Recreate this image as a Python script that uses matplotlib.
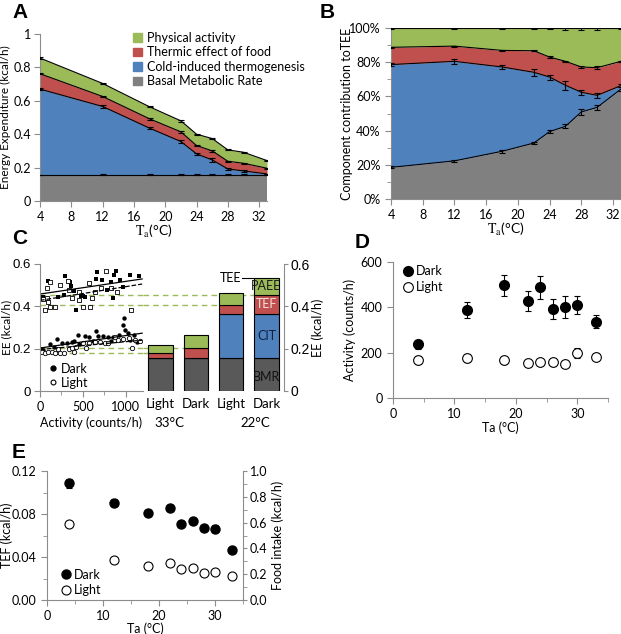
import matplotlib

matplotlib.use("Agg")
import matplotlib.pyplot as plt
import numpy as np
from matplotlib.lines import Line2D
from matplotlib.patches import Patch
from matplotlib.ticker import FuncFormatter, MultipleLocator, PercentFormatter
from matplotlib.transforms import blended_transform_factory

plt.rcParams["font.family"] = ["Lato", "DejaVu Sans"]
plt.rcParams["font.size"] = 9
plt.rcParams["mathtext.fontset"] = "stix"

GREEN = "#9bbb59"
RED = "#c0504d"
BLUE = "#4f81bd"
GRAY = "#808080"
DARK_GRAY = "#595959"
SPINE = "#8c8c8c"

# ---- panel A: stacked energy expenditure (kcal/h) ----
ta = [4, 12, 18, 22, 24, 26, 28, 30, 33]
bmr_top = [0.158, 0.158, 0.158, 0.158, 0.158, 0.158, 0.158, 0.158, 0.158]
cit_top = [0.670, 0.566, 0.436, 0.356, 0.282, 0.246, 0.192, 0.180, 0.162]
tef_top = [0.762, 0.626, 0.492, 0.414, 0.332, 0.300, 0.238, 0.226, 0.196]
pa_top = [0.856, 0.704, 0.564, 0.480, 0.400, 0.374, 0.306, 0.292, 0.242]
bmr_err = [0.0, 0.003, 0.003, 0.003, 0.003, 0.003, 0.003, 0.003, 0.0]
cit_err = [0.006, 0.008, 0.007, 0.010, 0.008, 0.010, 0.005, 0.004, 0.002]
tef_err = [0.004, 0.004, 0.004, 0.004, 0.004, 0.005, 0.004, 0.004, 0.003]
pa_err = [0.005, 0.003, 0.003, 0.004, 0.004, 0.004, 0.003, 0.003, 0.003]
legend_a = ["Physical activity", "Thermic effect of food",
            "Cold-induced thermogenesis", "Basal Metabolic Rate"]

# ---- panel B: cumulative share of TEE (%) ----
b_bmr = [18.5, 22.3, 27.9, 32.7, 39.4, 42.5, 50.9, 53.6, 64.3]
b_cit = [78.6, 80.5, 77.2, 74.1, 71.3, 66.5, 62.4, 60.6, 66.3]
b_tef = [88.7, 89.4, 86.9, 86.7, 83.0, 80.5, 77.2, 76.8, 80.5]
b_pa = [100, 100, 100, 100, 100, 100, 100, 100, 100]
b_bmr_err = [0.6, 0.7, 0.8, 0.8, 1.0, 1.2, 1.6, 1.3, 1.2]
b_cit_err = [0.8, 1.4, 1.3, 2.0, 1.5, 2.5, 1.4, 1.5, 0.8]
b_tef_err = [0.3, 0.3, 0.3, 0.3, 0.4, 0.4, 0.5, 0.8, 0.4]
b_pa_err = [0.4, 0.3, 0.6, 0.7, 0.7, 1.3, 0.9, 1.3, 0.3]

# ---- panel C: EE vs activity, 22 C (upper) and 33 C (lower) ----
dark22_x = [40, 99, 210, 274, 286, 349, 365, 397, 417, 476, 504, 528,
            647, 667, 726, 786, 833, 845, 861, 885, 933, 964, 1052, 1151]
dark22_y = [0.445, 0.521, 0.445, 0.453, 0.543, 0.516, 0.496, 0.472, 0.383, 0.449, 0.450, 0.445,
            0.529, 0.563, 0.524, 0.477, 0.516, 0.441, 0.548, 0.568, 0.524, 0.492, 0.548, 0.545]
light22_x = [40, 60, 80, 80, 99, 119, 119, 179, 238, 329, 337, 377,
             456, 456, 496, 575, 583, 607, 635, 714, 774, 833, 893, 1060]
light22_y = [0.434, 0.383, 0.485, 0.438, 0.422, 0.516, 0.398, 0.398, 0.501, 0.520, 0.477, 0.441,
             0.469, 0.430, 0.398, 0.509, 0.398, 0.441, 0.469, 0.485, 0.568, 0.485, 0.469, 0.383]
dark33_x = [12, 40, 119, 159, 198, 258, 317, 377, 397, 448, 456, 528, 575, 615,
            647, 675, 734, 794, 833, 853, 925, 964, 980, 992, 1020, 1044, 1099, 1131]
dark33_y = [0.197, 0.194, 0.221, 0.209, 0.244, 0.225, 0.228, 0.233, 0.238, 0.265, 0.221, 0.260, 0.257, 0.236,
            0.283, 0.260, 0.260, 0.257, 0.238, 0.257, 0.265, 0.312, 0.343, 0.288, 0.272, 0.241, 0.265, 0.233]
light33_x = [20, 60, 99, 139, 179, 210, 238, 278, 337, 377, 397, 417, 496,
             536, 575, 635, 694, 754, 794, 873, 913, 972, 1032, 1071, 1111, 1170]
light33_y = [0.186, 0.181, 0.186, 0.186, 0.181, 0.197, 0.178, 0.181, 0.197, 0.201, 0.186, 0.209, 0.225,
             0.201, 0.225, 0.233, 0.233, 0.225, 0.228, 0.257, 0.241, 0.244, 0.249, 0.201, 0.241, 0.238]
# fitted lines: (intercept, slope per count)
fit_dark22 = (0.458, 6.0e-5)
fit_light22 = (0.428, 6.5e-5)
fit_dark33 = (0.203, 5.9e-5)
fit_light33 = (0.196, 3.7e-5)

bar_labels = ["Light", "Dark", "Light", "Dark"]
bar_temps = ["33°C", "22°C"]
bar_bmr = [0.156, 0.156, 0.156, 0.156]
bar_cit = [0.0, 0.0, 0.206, 0.210]
bar_tef = [0.024, 0.046, 0.045, 0.088]
bar_paee = [0.036, 0.062, 0.057, 0.082]

# ---- panel D: activity (counts/h) ----
d_ta = [4, 12, 18, 22, 24, 26, 28, 30, 33]
d_dark = [237, 390, 497, 428, 488, 393, 403, 412, 337]
d_dark_err = [20, 35, 45, 45, 50, 45, 48, 40, 28]
d_light = [167, 178, 166, 155, 157, 158, 152, 200, 182]
d_light_err = [18, 18, 15, 10, 10, 15, 8, 22, 15]

# ---- panel E: TEF (kcal/h) ----
e_ta = [4, 12, 18, 22, 24, 26, 28, 30, 33]
e_dark = [0.1085, 0.0905, 0.0810, 0.0860, 0.0705, 0.0735, 0.0668, 0.0665, 0.0464]
e_dark_err = [0.004, 0.003, 0.003, 0.002, 0.002, 0.003, 0.002, 0.003, 0.001]
e_light = [0.0705, 0.0371, 0.0315, 0.0346, 0.0285, 0.0297, 0.0247, 0.0263, 0.0226]
e_light_err = [0.002, 0.002, 0.001, 0.002, 0.001, 0.001, 0.001, 0.002, 0.001]

W, H = 621, 634
fig = plt.figure(figsize=(W / 100, H / 100), dpi=100)


def px_axes(left, top, right, bottom):
    return fig.add_axes([left / W, 1 - bottom / H, (right - left) / W, (bottom - top) / H])


def excel_style(ax, side="left"):
    for name, spine in ax.spines.items():
        spine.set_color(SPINE)
        spine.set_visible(name in ("bottom", side))
    ax.tick_params(which="both", direction="out", color=SPINE, labelsize=9)
    ax.tick_params(which="major", length=4)
    ax.tick_params(which="minor", length=3)


def place_labels(ax, xlab_y=None, ylab_x=None):
    # put axis labels at fixed axes-fraction positions, centred
    if xlab_y is not None:
        ax.xaxis.set_label_coords(0.5, xlab_y)
        ax.xaxis.label.set_va("center")
    if ylab_x is not None:
        ax.yaxis.set_label_coords(ylab_x, 0.5)
        ax.yaxis.label.set_va("center")


def dl_handles(ms):
    return [Line2D([], [], ls="", marker="o", ms=ms, color="black"),
            Line2D([], [], ls="", marker="o", ms=ms, mfc="white", mec="black", mew=0.8)]


num_fmt = FuncFormatter(lambda v, _: f"{v:g}")
err_kw = dict(fmt="none", ecolor="black", elinewidth=0.8, capsize=2, capthick=0.8, zorder=5)

# ---------------- A ----------------
axA = px_axes(40, 34, 267, 201)
lower = np.zeros(len(ta))
for top, color in zip([bmr_top, cit_top, tef_top, pa_top], [GRAY, BLUE, RED, GREEN]):
    axA.fill_between(ta, lower, top, color=color, lw=0)
    axA.plot(ta, top, color="black", lw=0.8)
    lower = np.array(top)
for top, err in zip([bmr_top, cit_top, tef_top, pa_top], [bmr_err, cit_err, tef_err, pa_err]):
    axA.errorbar(ta, top, yerr=err, **err_kw)
axA.set_xlim(4, 33)
axA.set_ylim(0, 1)
axA.set_xticks(range(4, 33, 4))
axA.yaxis.set_major_locator(MultipleLocator(0.2))
axA.yaxis.set_major_formatter(num_fmt)
excel_style(axA)
axA.tick_params(axis="y", pad=2.5)
axA.set_ylabel("Energy Expenditure (kcal/h)", fontsize=8.5)
axA.set_xlabel(r"$\mathrm{T_a}$(°C)", fontsize=10)
place_labels(axA, xlab_y=-0.18, ylab_x=-0.15)
handles = [Patch(color=c) for c in [GREEN, RED, BLUE, GRAY]]
axA.legend(handles, legend_a, loc="upper left", bbox_to_anchor=(0.36, 1.08), frameon=False,
           handlelength=0.7, handleheight=0.7, handletextpad=0.4, labelspacing=0.2, fontsize=9)

# ---------------- B ----------------
axB = px_axes(391, 28, 621, 199)
lower = np.zeros(len(ta))
for top, color in zip([b_bmr, b_cit, b_tef, b_pa], [GRAY, BLUE, RED, GREEN]):
    axB.fill_between(ta, lower, top, color=color, lw=0)
    axB.plot(ta, top, color="black", lw=0.8)
    lower = np.array(top)
for top, err in zip([b_bmr, b_cit, b_tef, b_pa], [b_bmr_err, b_cit_err, b_tef_err, b_pa_err]):
    axB.errorbar(ta, top, yerr=err, **err_kw)
axB.set_xlim(4, 33)
axB.set_ylim(0, 100)
axB.set_xticks(range(4, 33, 4))
axB.yaxis.set_major_locator(MultipleLocator(20))
axB.yaxis.set_minor_locator(MultipleLocator(10))
axB.yaxis.set_major_formatter(PercentFormatter(decimals=0))
excel_style(axB)
axB.set_ylabel("Component contribution toTEE", fontsize=9)
axB.set_xlabel(r"$\mathrm{T_a}$(°C)", fontsize=10)
place_labels(axB, xlab_y=-0.18, ylab_x=-0.19)

# ---------------- C (scatter) ----------------
axC = px_axes(40, 264, 143, 391)
axC.scatter(dark22_x, dark22_y, marker="s", s=10, color="black", lw=0)
axC.scatter(light22_x, light22_y, marker="s", s=10, facecolor="white", edgecolor="black", lw=0.6)
axC.scatter(dark33_x, dark33_y, marker="o", s=10, color="black", lw=0)
axC.scatter(light33_x, light33_y, marker="o", s=10, facecolor="white", edgecolor="black", lw=0.6)
fit_x = np.array([0, 1190])
for (b0, b1), ls in zip([fit_dark22, fit_light22, fit_dark33, fit_light33], ["-", "--", "-", "--"]):
    axC.plot(fit_x, b0 + b1 * fit_x, color="black", lw=0.9, ls=ls)
bar_level = [b + c + t for b, c, t in zip(bar_bmr, bar_cit, bar_tef)]
for lvl in bar_level:
    axC.axhline(lvl, color=GREEN, lw=1.0, ls=(0, (4, 3)), zorder=0)
axC.set_xlim(0, 1200)
axC.set_ylim(0, 0.6)
axC.set_xticks([0, 500, 1000])
axC.xaxis.set_minor_locator(MultipleLocator(250))
axC.yaxis.set_major_locator(MultipleLocator(0.2))
axC.yaxis.set_major_formatter(num_fmt)
excel_style(axC)
axC.tick_params(axis="y", labelsize=9.5, pad=2.5)
for lab in axC.get_yticklabels():
    lab.set_family("Liberation Sans")
axC.set_ylabel("EE (kcal/h)", fontsize=8.5)
axC.set_xlabel("Activity (counts/h)", fontsize=9)
place_labels(axC, xlab_y=-0.25, ylab_x=-0.325)
axC.legend(dl_handles(3.5), ["Dark", "Light"], loc="lower left", bbox_to_anchor=(-0.02, -0.07),
           frameon=False, handlelength=0.6, handletextpad=0.3, labelspacing=0.15, fontsize=9)

# ---------------- C (bars) ----------------
axCb = px_axes(143, 264, 284, 391)
xpos = np.arange(len(bar_labels))
bottom = np.zeros(len(bar_labels))
for vals, color in zip([bar_bmr, bar_cit, bar_tef, bar_paee], [DARK_GRAY, BLUE, RED, GREEN]):
    axCb.bar(xpos, vals, 0.7, bottom=bottom, color=color, edgecolor="black", lw=0.8)
    bottom = bottom + np.array(vals)
axCb.set_xlim(-0.5, 3.5)
axCb.set_ylim(0, 0.6)
for i, lvl in enumerate(bar_level):
    axCb.hlines(lvl, -0.5, xpos[i] - 0.35, color=GREEN, lw=1.0, ls=(0, (4, 3)), zorder=0)
excel_style(axCb, side="right")
axCb.spines["bottom"].set_visible(False)
axCb.yaxis.tick_right()
axCb.yaxis.set_label_position("right")
axCb.yaxis.set_major_locator(MultipleLocator(0.2))
axCb.yaxis.set_major_formatter(num_fmt)
axCb.tick_params(axis="y", labelsize=10, pad=1.5, length=3)
for lab in axCb.get_yticklabels():
    lab.set_family("Liberation Sans")
axCb.set_xticks(xpos)
axCb.set_xticklabels(bar_labels, fontsize=9.5)
axCb.tick_params(axis="x", length=0, pad=5)
axCb.set_ylabel("EE (kcal/h)", fontsize=9)
place_labels(axCb, ylab_x=1.24)
trans = blended_transform_factory(axCb.transData, axCb.transAxes)
for x, t in zip([0.24, 2.68], bar_temps):
    axCb.text(x, -0.25, t, transform=trans, ha="center", va="center", fontsize=9.5)
# segment names in the last bar
i = 3
seg_mid = [bar_bmr[i] / 2 - 0.01,
           bar_bmr[i] + bar_cit[i] / 2,
           bar_bmr[i] + bar_cit[i] + bar_tef[i] / 2,
           bar_bmr[i] + bar_cit[i] + bar_tef[i] + bar_paee[i] / 2]
for y, t, c in zip(seg_mid, ["BMR", "CIT", "TEF", "PAEE"], ["#111111", "#102040", "#f2dede", "#1a1a1a"]):
    axCb.text(xpos[i], y, t, ha="center", va="center", fontsize=9, color=c)
tee = bottom[i]
axCb.plot([2.32, 2.63], [tee, tee], color="black", lw=0.8)
axCb.text(2.28, tee, "TEE", ha="right", va="center", fontsize=9)

# ---------------- D ----------------
axD = px_axes(393, 262, 608, 398)
axD.errorbar(d_ta, d_dark, yerr=d_dark_err, fmt="o", ms=7, color="black", ecolor="black",
             elinewidth=0.8, capsize=2.5, capthick=0.8)
axD.errorbar(d_ta, d_light, yerr=d_light_err, fmt="o", ms=7, mfc="white", mec="black", mew=0.8,
             ecolor="black", elinewidth=0.8, capsize=2.5, capthick=0.8)
axD.set_xlim(0, 35)
axD.set_ylim(0, 600)
axD.xaxis.set_major_locator(MultipleLocator(10))
axD.xaxis.set_minor_locator(MultipleLocator(5))
axD.yaxis.set_major_locator(MultipleLocator(200))
excel_style(axD)
axD.set_ylabel("Activity (counts/h)", fontsize=9)
axD.set_xlabel("Ta (°C)", fontsize=9)
place_labels(axD, xlab_y=-0.22, ylab_x=-0.2)
axD.legend(dl_handles(7), ["Dark", "Light"], loc="upper left", bbox_to_anchor=(0.0, 1.06),
           frameon=False, handlelength=0.6, handletextpad=0.3, labelspacing=0.35, fontsize=9)

# ---------------- E ----------------
axE = px_axes(47, 471, 243, 600)
axE.errorbar(e_ta, e_dark, yerr=e_dark_err, fmt="o", ms=6.5, color="black", ecolor="black",
             elinewidth=0.8, capsize=2.5, capthick=0.8)
axE.errorbar(e_ta, e_light, yerr=e_light_err, fmt="o", ms=6.5, mfc="white", mec="black", mew=0.8,
             ecolor="black", elinewidth=0.8, capsize=2.5, capthick=0.8)
axE.set_xlim(0, 35)
axE.set_ylim(0, 0.12)
axE.xaxis.set_major_locator(MultipleLocator(10))
axE.xaxis.set_minor_locator(MultipleLocator(5))
axE.yaxis.set_major_locator(MultipleLocator(0.04))
axE.yaxis.set_minor_locator(MultipleLocator(0.02))
axE.yaxis.set_major_formatter(FuncFormatter(lambda v, _: f"{v:.2f}"))
excel_style(axE)
axE.set_ylabel("TEF (kcal/h)", fontsize=9)
axE.set_xlabel("Ta (°C)", fontsize=9)
place_labels(axE, xlab_y=-0.22, ylab_x=-0.205)
axE.legend(dl_handles(6.5), ["Dark", "Light"], loc="lower left", bbox_to_anchor=(0.02, -0.06),
           frameon=False, handlelength=0.6, handletextpad=0.3, labelspacing=0.3, fontsize=9)
axE2 = axE.twinx()
axE2.set_ylim(0, 1.0)
axE2.yaxis.set_major_locator(MultipleLocator(0.2))
axE2.yaxis.set_minor_locator(MultipleLocator(0.1))
axE2.yaxis.set_major_formatter(FuncFormatter(lambda v, _: f"{v:.1f}"))
excel_style(axE2, side="right")
axE2.spines["bottom"].set_visible(False)
axE2.tick_params(axis="y", which="major", length=3, pad=2)
axE2.set_ylabel("Food intake (kcal/h)", fontsize=9)
place_labels(axE2, ylab_x=1.175)

for x, y, t in [(12, 12, "A"), (320, 12, "B"), (12, 238, "C"), (355, 242, "D"), (12, 452, "E")]:
    fig.text(x / W, 1 - y / H, t, fontsize=15, fontweight="bold", family="Liberation Sans",
             ha="left", va="center")

fig.savefig("out.png", dpi=100)
